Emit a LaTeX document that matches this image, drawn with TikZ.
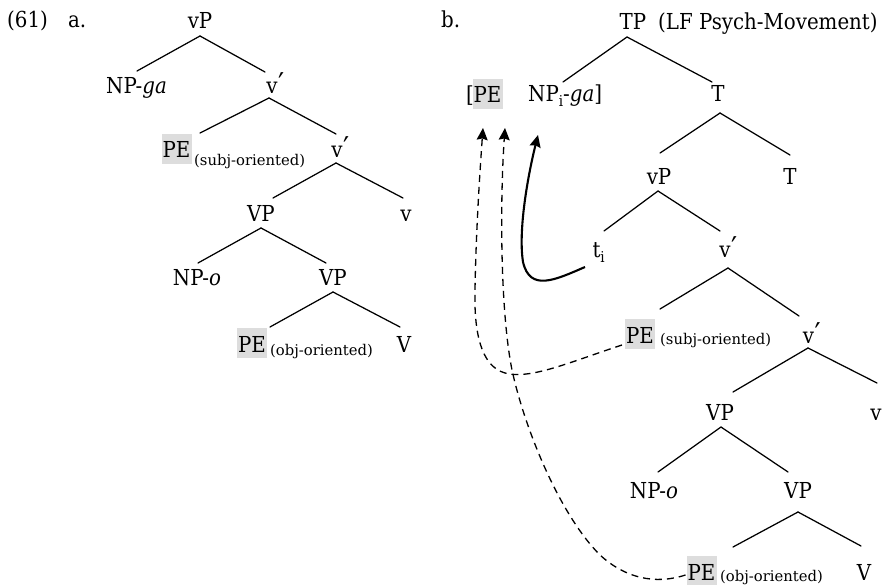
\documentclass[tikz,border=0pt]{standalone}
\usepackage{fontspec}
\setmainfont{DejaVu Serif Condensed}
\newfontfamily\notefont{DejaVu Serif}
\usetikzlibrary{calc,arrows.meta}
\definecolor{peGray}{RGB}{221,221,221}
% one tree branch: parent anchor + offset -- child anchor + offset
\newcommand\branch[4]{\draw[tree] ($(#1)+(#2)$) -- ($(#3)+(#4)$);}
\newcommand\subi{\raisebox{-5pt}{\fontsize{15}{15}\selectfont i}}
% bar-level prime, kept out of the label's width
\newcommand\barprime{\rlap{\kern0.5pt\raisebox{-1pt}{\fontsize{30}{30}\selectfont ′}}}
\begin{document}
\begin{tikzpicture}[x=1pt,y=-1pt,
  lab/.style={anchor=base,inner sep=0pt,font=\fontsize{22}{24}\selectfont},
  labw/.style={lab,anchor=base west},
  small/.style={anchor=base west,inner sep=0pt,font=\notefont\fontsize{14.8}{17}\selectfont},
  pebox/.style={anchor=base,fill=peGray,inner sep=0pt,minimum width=30pt,
    text height=24pt,text depth=6pt,font=\fontsize{22}{24}\selectfont},
  tree/.style={line width=1.25pt,line cap=round},
  move/.style={line width=1.3pt,dash pattern=on 7pt off 5pt,
    -{Stealth[length=12pt,width=11pt,inset=1.5pt]}},
  trace/.style={line width=2.1pt,
    -{Stealth[length=12pt,width=11pt,inset=1.5pt]}}
]
\useasboundingbox (0,0) rectangle (886,585);

% example number and sub-labels
\node[labw] (num) at (7,28) {(61)};
\node[labw] (la) at (68,28) {a.};
\node[labw] (lb) at (441,28) {b.};

% ---------- tree (a) ----------
\node[lab] (aVP)  at (200,29)   {vP};
\node[lab] (aNP)  at (136.5,94) {NP-\textit{ga}};
\node[lab] (aV1)  at (272,94)   {v\barprime};
\node[pebox] (aPE1) at (176.5,158) {PE};
\node[small] (aPE1l) at (194,166) {(subj-oriented)};
\node[lab] (aV2)  at (337,158)  {v\barprime};
\node[lab] (aVP1) at (261,222)  {VP};
\node[lab] (av)   at (406,222)  {v};
\node[lab] (aNPo) at (197,286)  {NP-\textit{o}};
\node[lab] (aVP2) at (333,286)  {VP};
\node[pebox] (aPE2) at (252,352) {PE};
\node[small] (aPE2l) at (270,355) {(obj-oriented)};
\node[lab] (aV)   at (404,352)  {V};

\branch{aVP.base}{0,7}{aNP.base}{0.5,-23}
\branch{aVP.base}{0,7}{aV1.base}{-7,-22}
\branch{aV1.base}{-3,4}{aPE1.base}{23.5,-25}
\branch{aV1.base}{-3,4}{aV2.base}{-1,-24}
\branch{aV2.base}{-1,5}{aVP1.base}{12,-24}
\branch{aV2.base}{-1,5}{av.base}{-3,-24}
\branch{aVP1.base}{0,6}{aNPo.base}{1,-23}
\branch{aVP1.base}{0,6}{aVP2.base}{-7,-23}
\branch{aVP2.base}{0,6}{aPE2.base}{18,-25}
\branch{aVP2.base}{0,6}{aV.base}{-4,-25}

% ---------- tree (b) ----------
\node[lab] (bTP) at (633,30) {TP};
\node[labw] (bTPl) at (658,30) {(LF Psych-Movement)};
\node[labw] (bbr) at (466,103) {[};
\node[pebox] (bPE0) at (487.5,103) {PE};
\node[labw] (bNP) at (528,102) {NP\subi-\textit{ga}]};
\node[lab] (bT1) at (718,102) {T};
\node[lab] (bvP) at (659,185) {vP};
\node[lab] (bT2) at (790,185) {T};
\node[lab] (bt)  at (596.5,258) {t\rlap{\subi}};
\node[lab] (bV1) at (725,258) {v\barprime};
\node[pebox] (bPE1) at (640,343) {PE};
\node[small] (bPE1l) at (660,344) {(subj-oriented)};
\node[lab] (bV2) at (808.5,343) {v\barprime};
\node[lab] (bVP1) at (720,420) {VP};
\node[lab] (bv)  at (876,420) {v};
\node[lab] (bNPo) at (654,498) {NP-\textit{o}};
\node[lab] (bVP2) at (798,498) {VP};
\node[pebox] (bPE2) at (701.5,580) {PE};
\node[small] (bPE2l) at (720,581) {(obj-oriented)};
\node[lab] (bV)  at (864,580) {V};

\branch{bTP.base}{-6,7}{bNP.base west}{35,-20}
\branch{bTP.base}{-6,7}{bT1.base}{-6,-20}
\branch{bT1.base}{2,11}{bvP.base}{1,-32}
\branch{bT1.base}{2,11}{bT2.base}{0,-30}
\branch{bvP.base}{-1,6}{bt.base}{7.5,-27}
\branch{bvP.base}{-1,6}{bV1.base}{-5,-27}
\branch{bV1.base}{3,10}{bPE1.base}{20,-34}
\branch{bV1.base}{3,10}{bV2.base}{-9.5,-27}
\branch{bV2.base}{-0.5,5}{bVP1.base}{13,-28}
\branch{bV2.base}{-0.5,5}{bv.base}{1,-37}
\branch{bVP1.base}{1,7}{bNPo.base}{4,-26}
\branch{bVP1.base}{1,7}{bVP2.base}{-10,-26}
\branch{bVP2.base}{0,14}{bPE2.base}{31.5,-33}
\branch{bVP2.base}{0,14}{bV.base}{-3,-34}

% movement of the subject NP from its trace
\draw[trace] ($(bt.base)+(-11.5,9)$) .. controls (555,280) and (530,292) .. (523,262)
  .. controls (518,230) and (528,175) .. ($(bNP.base west)+(10,33)$);

% LF movement of the two PEs
\draw[move] ($(bPE1.base)+(-18,2)$) .. controls (570,362) and (530,380) .. (505,373)
  .. controls (480,366) and (474,330) .. (475,290)
  .. controls (476,230) and (480,170) .. ($(bPE0.base)+(-4.5,25)$);
\draw[move] ($(bPE2.base)+(-16,-5)$) .. controls (655,585) and (625,578) .. (600,555)
  .. controls (560,515) and (525,430) .. (512,370)
  .. controls (500,310) and (500,200) .. ($(bPE0.base)+(17.5,25)$);
\end{tikzpicture}
\end{document}
